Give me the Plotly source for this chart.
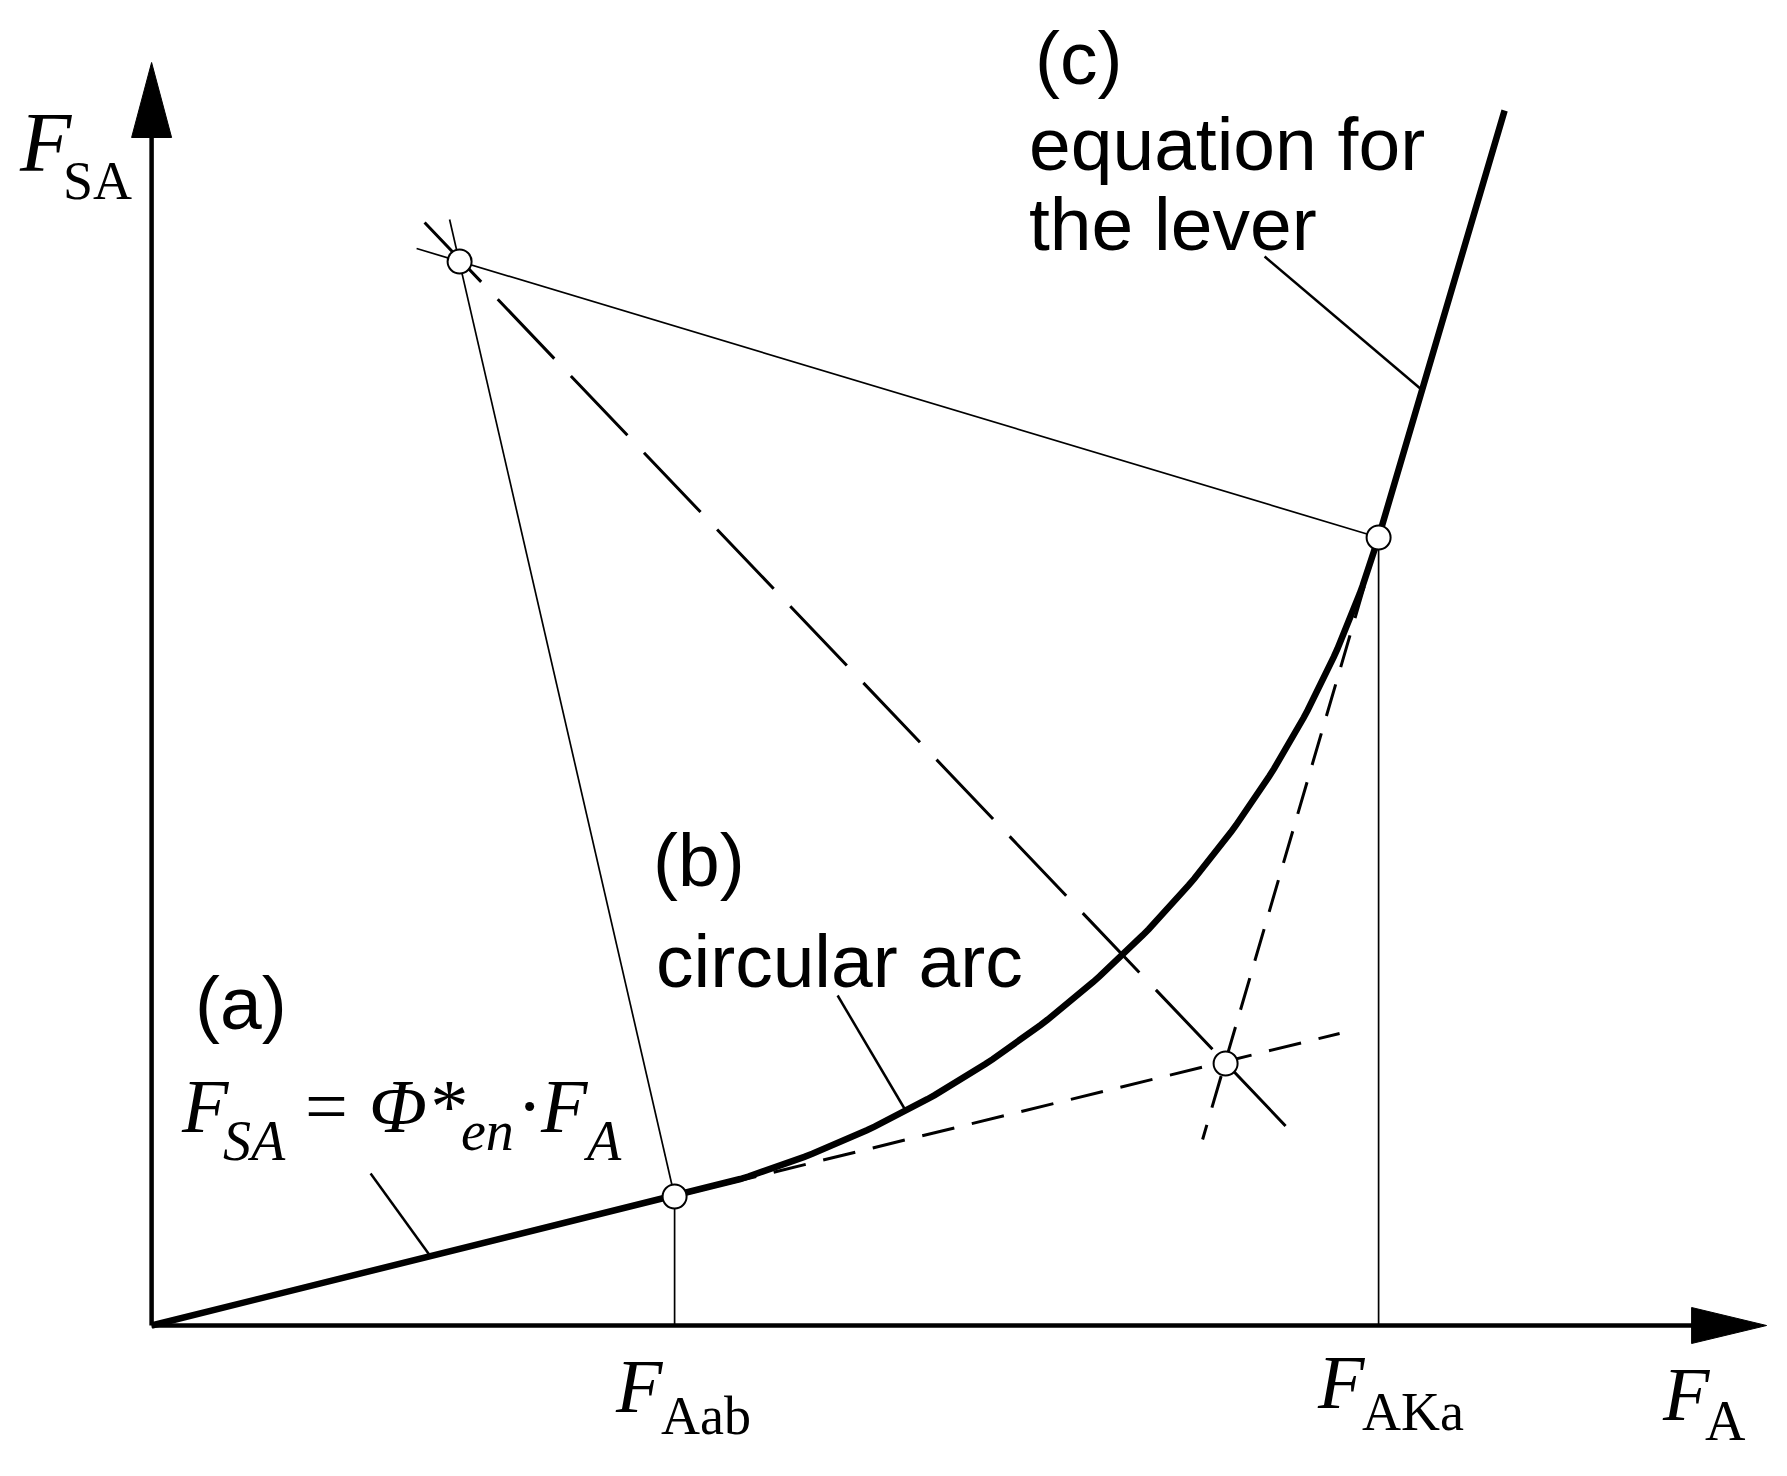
import numpy as np
import plotly.graph_objects as go

# diagram values (F_A along x, F_SA along y), origin where the axes cross
F_A_ab, F_SA_ab = 523, 129          # end of straight line (a)
F_A_Ka, F_SA_Ka = 1227, 788         # start of lever line (c)
center_x, center_y = 308, 1064      # centre of the circular arc (b)
lever_end_x, lever_end_y = 1353, 1215
cross_x, cross_y = 1074, 262        # where the two tangents meet

tan_a_x = [523, 1188]
tan_a_y = [129, 292]
tan_c_x = [1227, 1051]
tan_c_y = [788, 186]
bisect_x = [273, 1145]
bisect_y = [1103, 188]
radius_ab_x = [298, 523]
radius_ab_y = [1106, 129]
radius_ka_x = [265, 1227]
radius_ka_y = [1077, 788]
leader_a_x = [219, 279]
leader_a_y = [152, 69]
leader_b_x = [686, 754]
leader_b_y = [330, 215]
leader_c_x = [1113, 1271]
leader_c_y = [1069, 935]

# circular arc between the two tangent points
r = np.mean([np.hypot(F_A_ab - center_x, F_SA_ab - center_y),
             np.hypot(F_A_Ka - center_x, F_SA_Ka - center_y)])
a0 = np.arctan2(F_SA_ab - center_y, F_A_ab - center_x)
a1 = np.arctan2(F_SA_Ka - center_y, F_A_Ka - center_x)
t = np.linspace(a0, a1, 120)
curve_x = [0] + list(center_x + r * np.cos(t)) + [lever_end_x]
curve_y = [0] + list(center_y + r * np.sin(t)) + [lever_end_y]

OX, OY = 151.6, 1325.5   # axis origin in the picture
W, H, PAD = 1770, 1458, 8

fig = go.Figure()


def line(x, y, width, dash='solid'):
    fig.add_trace(go.Scatter(x=x, y=y, mode='lines',
                             line=dict(color='black', width=width, dash=dash),
                             hoverinfo='skip'))


# axes
line([0, 1545], [0, 0], 4.5)
line([0, 0], [0, 1192], 4.5)
fig.add_trace(go.Scatter(x=[1540, 1615, 1540, 1540], y=[18, 0, -18, 18],
                         mode='lines', fill='toself', fillcolor='black',
                         line=dict(color='black', width=1), hoverinfo='skip'))
fig.add_trace(go.Scatter(x=[-20, 0, 20, -20], y=[1188, 1263, 1188, 1188],
                         mode='lines', fill='toself', fillcolor='black',
                         line=dict(color='black', width=1), hoverinfo='skip'))

# construction lines
line(radius_ab_x, radius_ab_y, 1.7)
line(radius_ka_x, radius_ka_y, 1.7)
line([F_A_ab, F_A_ab], [0, F_SA_ab], 1.7)
line([F_A_Ka, F_A_Ka], [0, F_SA_Ka], 1.7)
line(bisect_x, bisect_y, 3, '82px,24px')
line(tan_a_x, tan_a_y, 3, '33px,18px')
line(tan_c_x, tan_c_y, 3, '33px,18px')

# characteristic curve (a) + (b) + (c)
line(curve_x, curve_y, 6.5)

# leaders
line(leader_a_x, leader_a_y, 2.5)
line(leader_b_x, leader_b_y, 2.5)
line(leader_c_x, leader_c_y, 2.5)

# points
fig.add_trace(go.Scatter(
    x=[center_x, F_A_ab, F_A_Ka, cross_x],
    y=[center_y, F_SA_ab, F_SA_Ka, cross_y],
    mode='markers',
    marker=dict(symbol='circle', size=24, color='white',
                line=dict(color='black', width=2)),
    hoverinfo='skip'))

SANS = 'Liberation Sans, Arial, sans-serif'
SERIF = 'Liberation Serif, Times New Roman, serif'


def text(s, px, base, size, family=SANS, italic=False):
    k = 0.3465 if family == SANS else 0.3375
    fig.add_annotation(x=px - OX, y=OY - base + k * size, text=s,
                       xref='x', yref='y', xanchor='left', yanchor='middle',
                       showarrow=False, borderpad=0,
                       font=dict(family=family, size=size, color='black',
                                 style='italic' if italic else 'normal'))


text('(c)', 1034, 84, 75)
text('equation for', 1028, 170, 75)
text('the lever', 1028, 250, 75)
text('(b)', 652, 886, 75)
text('circular arc', 655, 987, 75)
text('(a)', 194, 1029, 75)

# formula F_SA = Phi*_en . F_A
text('F', 180, 1132, 76, SERIF, True)
text('SA', 222, 1160, 56, SERIF, True)
text('=', 304, 1132, 76, SERIF)
text('Φ*', 368, 1132, 76, SERIF, True)
text('en', 460, 1150, 56, SERIF, True)
text('·', 516, 1132, 76, SERIF)
text('F', 539, 1132, 76, SERIF, True)
text('A', 582, 1160, 56, SERIF, True)

# axis labels
text('F', 18, 171, 84, SERIF, True)
text('SA', 62, 199, 54, SERIF)
text('F', 614, 1412, 76, SERIF, True)
text('Aab', 660, 1434, 54, SERIF)
text('F', 1316, 1408, 76, SERIF, True)
text('AKa', 1361, 1430, 54, SERIF)
text('F', 1661, 1420, 76, SERIF, True)
text('A', 1704, 1440, 56, SERIF)

fig.update_layout(
    width=W, height=H,
    margin=dict(l=0, r=0, t=0, b=0),
    paper_bgcolor='white', plot_bgcolor='white',
    showlegend=False,
    xaxis=dict(range=[PAD - OX, PAD - OX + W], visible=False, fixedrange=True),
    yaxis=dict(range=[OY - PAD - H, OY - PAD], visible=False, fixedrange=True),
)

fig.write_html('out.html')
